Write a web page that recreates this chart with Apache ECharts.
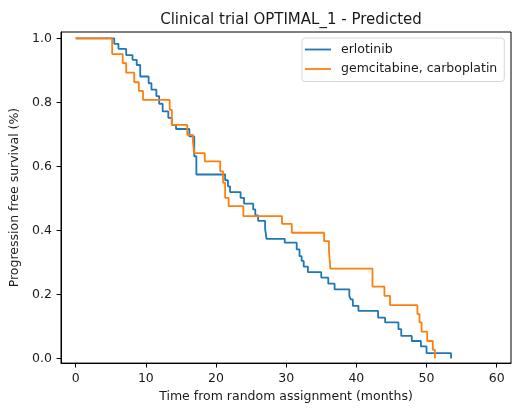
<!DOCTYPE html>
<html>
<head>
<meta charset="utf-8">
<script src="https://cdn.jsdelivr.net/npm/echarts@6/dist/echarts.min.js"></script>
<style>
  html, body { margin: 0; padding: 0; background: #fff; }
  #chart { width: 517px; height: 408px; }
</style>
</head>
<body>
<div id="chart"></div>
<script>
// Kaplan-Meier style step curves
const erlotinibTimes = [0, 5.5, 6.1, 7.2, 8.1, 8.7, 9.2, 10.4, 10.8, 11.5, 11.9, 12.4, 13.2, 13.7, 14.3, 16.2, 16.9, 17.2,
  21.3, 21.7, 22.0, 23.5, 24.0, 25.3, 25.6, 26.0, 27.0, 27.2, 29.8, 31.5, 31.9, 32.2, 32.5, 33.1, 35.0, 36.0, 36.9,
  39.0, 39.2, 39.5, 40.3, 43.1, 44.1, 46.0, 46.4, 47.9, 49.2, 50.0, 53.5];
const erlotinibSurv = [1.0, 0.983, 0.967, 0.948, 0.933, 0.917, 0.881, 0.86, 0.84, 0.82, 0.796, 0.772, 0.752, 0.73, 0.717, 0.694, 0.632, 0.575,
  0.557, 0.538, 0.52, 0.502, 0.484, 0.466, 0.447, 0.43, 0.405, 0.374, 0.362, 0.341, 0.32, 0.305, 0.287, 0.27, 0.253, 0.234, 0.216,
  0.196, 0.185, 0.165, 0.149, 0.128, 0.113, 0.092, 0.071, 0.055, 0.038, 0.017, 0.0];

const gemcitabineTimes = [0, 5.2, 6.7, 7.2, 8.35, 9.0, 9.6, 13.4, 13.7, 15.9, 16.7, 16.9, 18.4, 20.6, 21.0, 21.3, 21.8, 23.9,
  29.4, 30.8, 35.4, 36.1, 36.3, 42.3, 44.0, 44.8, 48.7, 49.0, 49.3, 50.1, 50.9, 51.2];
const gemcitabineSurv = [1.0, 0.951, 0.923, 0.893, 0.863, 0.836, 0.808, 0.777, 0.73, 0.699, 0.678, 0.642, 0.616, 0.585, 0.549, 0.502, 0.476, 0.445,
  0.421, 0.393, 0.367, 0.336, 0.281, 0.225, 0.196, 0.167, 0.139, 0.113, 0.084, 0.055, 0.027, 0.0];

const xTicks = [0, 10, 20, 30, 40, 50, 60];
const yTicks = [0, 0.2, 0.4, 0.6, 0.8, 1.0];

const chart = echarts.init(document.getElementById('chart'));

function pairs(xs, ys) {
  return xs.map((x, i) => [x, ys[i]]);
}

const font = 'DejaVu Sans';
const textColor = '#1a1a1a';

const option = {
  animation: false,
  title: {
    text: 'Clinical trial OPTIMAL_1 - Predicted',
    left: 286,
    textAlign: 'center',
    top: 8,
    textStyle: { fontFamily: font, fontSize: 15, fontWeight: 'normal', color: textColor }
  },
  legend: {
    orient: 'vertical',
    left: 302,
    top: 38,
    padding: [4, 7, 5, 3],
    itemGap: 4.5,
    itemWidth: 26,
    itemHeight: 1.8,
    icon: 'rect',
    borderColor: '#d6d6d6',
    borderWidth: 1,
    borderRadius: 3,
    textStyle: { fontFamily: font, fontSize: 12.5, lineHeight: 15, color: textColor, padding: [0, 0, 0, 5] },
    data: ['erlotinib', 'gemcitabine, carboplatin']
  },
  grid: {
    left: 61, right: 6, top: 32, bottom: 44,
    show: true,
    borderColor: '#000',
    borderWidth: 1
  },
  xAxis: {
    type: 'value',
    min: -2.09,
    max: 62.04,
    name: 'Time from random assignment (months)',
    nameLocation: 'middle',
    nameGap: 26,
    nameTextStyle: { fontFamily: font, fontSize: 12.5, color: textColor },
    splitLine: { show: false },
    axisLine: { show: true, onZero: false, lineStyle: { color: '#000', width: 1 } },
    axisTick: { show: true, length: 4.4, lineStyle: { color: '#000' }, customValues: xTicks },
    axisLabel: { fontFamily: font, fontSize: 12.5, color: textColor, margin: 9, customValues: xTicks }
  },
  yAxis: {
    type: 'value',
    min: -0.014,
    max: 1.020,
    name: 'Progression free survival (%)',
    nameLocation: 'middle',
    nameGap: 34,
    nameTextStyle: { fontFamily: font, fontSize: 12.5, color: textColor },
    splitLine: { show: false },
    axisLine: { show: true, onZero: false, lineStyle: { color: '#000', width: 1 } },
    axisTick: { show: true, length: 4.4, lineStyle: { color: '#000' }, customValues: yTicks },
    axisLabel: { fontFamily: font, fontSize: 12.5, color: textColor, margin: 9, customValues: yTicks,
      formatter: v => v.toFixed(1) }
  },
  series: [
    {
      name: 'erlotinib',
      type: 'line',
      step: 'end',
      showSymbol: false,
      color: '#1f77b4',
      lineStyle: { width: 1.8, color: '#1f77b4' },
      data: pairs(erlotinibTimes, erlotinibSurv)
    },
    {
      name: 'gemcitabine, carboplatin',
      type: 'line',
      step: 'end',
      showSymbol: false,
      color: '#ff7f0e',
      lineStyle: { width: 1.8, color: '#ff7f0e' },
      data: pairs(gemcitabineTimes, gemcitabineSurv)
    }
  ]
};

chart.setOption(option);
</script>
</body>
</html>
